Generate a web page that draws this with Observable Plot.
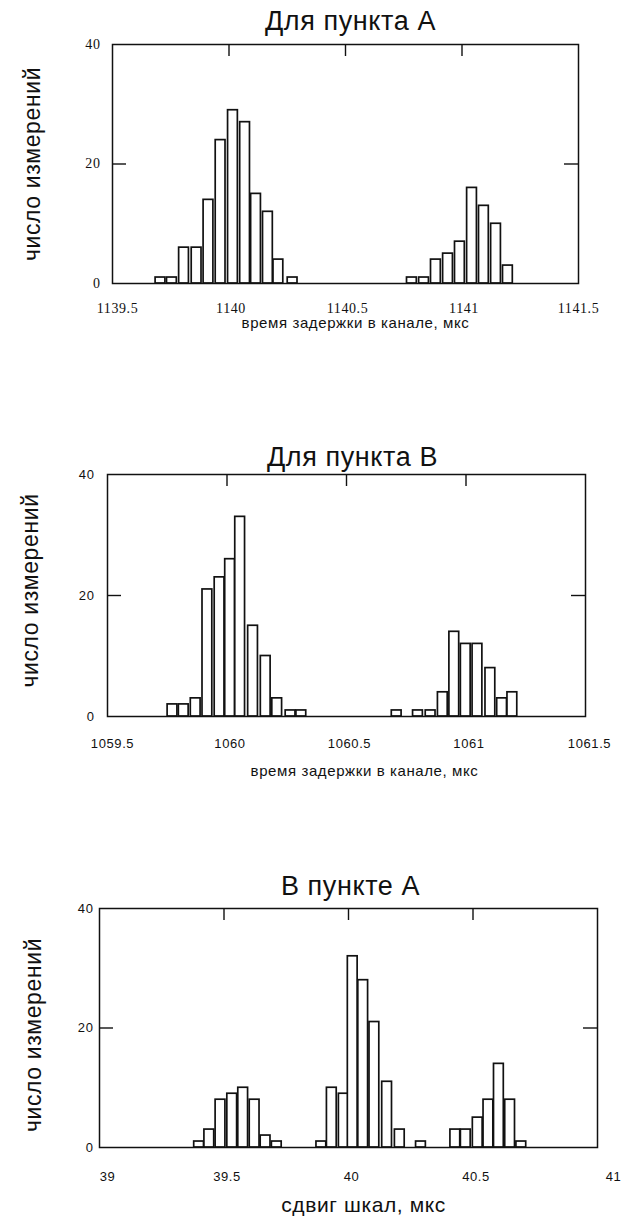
<!DOCTYPE html>
<html><head><meta charset="utf-8">
<script src="https://cdn.jsdelivr.net/npm/d3@7"></script>
<script src="https://cdn.jsdelivr.net/npm/@observablehq/plot@0.6"></script>
<style>
body{margin:0;background:#fff;}
#wrap{position:relative;width:637px;height:1226px;overflow:hidden;background:#fff;}
.panel{position:absolute;left:0;}
</style></head><body><div id="wrap"></div>
<script>
// ---- Panel 1: "Для пункта А" ----
const p1Title = "Для пункта А";
const p1XLabel = "время задержки в канале, мкс";
const p1Times  = [1139.706,1139.755,1139.807,1139.861,1139.912,1139.964,1140.017,1140.069,1140.116,1140.167,1140.212,1140.273,
                  1140.785,1140.837,1140.888,1140.940,1140.991,1141.043,1141.094,1141.146,1141.197];
const p1Counts = [1,1,6,6,14,24,29,27,15,12,4,1,
                  1,1,4,5,7,16,13,10,3];
const p1Ticks  = [1139.5,1140,1140.5,1141,1141.5];

// ---- Panel 2: "Для пункта В" ----
const p2Title = "Для пункта В";
const p2XLabel = "время задержки в канале, мкс";
const p2Times  = [1059.772,1059.819,1059.869,1059.918,1059.969,1060.013,1060.055,1060.109,1060.162,1060.210,1060.266,1060.311,
                  1060.710,1060.799,1060.852,1060.903,1060.951,1060.999,1061.048,1061.102,1061.151,1061.194];
const p2Counts = [2,2,3,21,23,26,33,15,10,3,1,1,
                  1,1,1,4,14,12,12,8,3,4];
const p2Ticks  = [1059.5,1060,1060.5,1061,1061.5];

// ---- Panel 3: "В пункте А" ----
const p3Title = "В пункте А";
const p3XLabel = "сдвиг шкал, мкс";
const p3Times  = [39.400,39.441,39.486,39.533,39.577,39.623,39.667,39.712,
                  39.891,39.933,39.981,40.017,40.059,40.104,40.155,40.206,40.291,
                  40.429,40.471,40.519,40.562,40.604,40.649,40.694];
const p3Counts = [1,3,8,9,10,8,2,1,
                  1,10,9,32,28,21,11,3,1,
                  3,3,5,8,14,8,1];
const p3Ticks  = [39,39.5,40,40.5,41];

const yTicks = [0,20,40];
const yLabel = "число измерений";

const wrap = document.getElementById("wrap");

function panel(o) {
  const data = o.times.map((t, i) => ({t, n: o.counts[i]}));
  const x0 = o.ticks[0], x1 = o.ticks[o.ticks.length - 1];
  const innerW = 637 - o.ml - o.mr;
  const pxu = innerW / (x1 - x0);         // px per x unit (for style lengths)
  const hw = 4.9 / pxu;                   // half bar width (~10px bars)
  const innerH = o.height - o.mt - o.mb;
  const tickLenY = 12 * 40 / innerH;      // 12px inner top ticks
  const tickLenX = 14 / pxu;              // 14px inner side ticks
  const inner = o.ticks.slice(1, -1);
  const chart = Plot.plot({
    width: 637, height: o.height,
    marginTop: o.mt, marginBottom: o.mb, marginLeft: o.ml, marginRight: o.mr,
    style: {background: "transparent", color: "#111", overflow: "visible"},
    x: {domain: [x0, x1]},
    y: {domain: [0, 40]},
    marks: [
      Plot.rect(data, {x1: d => d.t - hw, x2: d => d.t + hw, y1: 0, y2: "n",
        fill: "white", stroke: "#111", strokeWidth: 1.7}),
      Plot.frame({stroke: "#111", strokeWidth: 1.5}),
      Plot.ruleX(inner, {x: d => d, y1: 40, y2: 40 - tickLenY, stroke: "#111", strokeWidth: 1.4}),
      Plot.ruleY([20], {y: d => d, x1: x0, x2: x0 + tickLenX, stroke: "#111", strokeWidth: 1.4}),
      Plot.ruleY([20], {y: d => d, x1: x1, x2: x1 - tickLenX, stroke: "#111", strokeWidth: 1.4}),
      Plot.axisX(o.ticks.slice(0, 1), {tickSize: 0, tickPadding: o.xPad, tickFormat: d => String(d), dx: o.firstDx,
        fontSize: o.tickFont, fontFamily: o.tickFamily, label: null}),
      Plot.axisX(o.ticks.slice(1, -1), {tickSize: 0, tickPadding: o.xPad, tickFormat: d => String(d), dx: o.midDx,
        fontSize: o.tickFont, fontFamily: o.tickFamily, label: null}),
      Plot.axisX(o.ticks.slice(-1), {tickSize: 0, tickPadding: o.xPad, tickFormat: d => String(d), dx: o.lastDx,
        fontSize: o.tickFont, fontFamily: o.tickFamily, label: null}),
      Plot.axisY(yTicks, {tickSize: 0, tickPadding: o.yPad, tickFormat: d => String(d),
        fontSize: o.tickFont, fontFamily: o.tickFamily, label: null}),
      Plot.text([o.title], {text: d => d, frameAnchor: "top", dy: o.titleDy, dx: o.titleDx,
        fontSize: 27, fontFamily: "Liberation Sans", fill: "#111", lineAnchor: "bottom", textAnchor: "middle"}),
      Plot.text([o.xLabel], {text: d => d, frameAnchor: "bottom", dy: o.xLabDy, dx: o.xLabDx,
        fontSize: o.xLabFont, fontFamily: "Liberation Sans", fill: "#111", lineAnchor: "middle", textAnchor: "middle"}),
      Plot.text([yLabel], {text: d => d, frameAnchor: "left", dx: o.yLabDx, dy: o.yLabDy, rotate: -90,
        fontSize: 23, fontFamily: "Liberation Sans", fill: "#111", lineAnchor: "middle", textAnchor: "middle"})
    ]
  });
  chart.classList.add("panel");
  chart.style.top = o.top + "px";
  chart.querySelectorAll("text").forEach(t => t.setAttribute("letter-spacing", "0.6"));
  wrap.appendChild(chart);
}

panel({times: p1Times, counts: p1Counts, ticks: p1Ticks, title: p1Title, xLabel: p1XLabel,
  top: 0, height: 345, mt: 44, mb: 62, ml: 112, mr: 59,
  xPad: 20, yPad: 12, tickFont: 14, tickFamily: "Liberation Serif", firstDx: 5, midDx: 2, lastDx: 0,
  titleDy: -15, titleDx: 5, xLabDy: 40, xLabDx: 10, xLabFont: 15, yLabDx: -80, yLabDy: 0});

panel({times: p2Times, counts: p2Counts, ticks: p2Ticks, title: p2Title, xLabel: p2XLabel,
  top: 440, height: 345, mt: 34, mb: 69, ml: 107, mr: 52,
  xPad: 22, yPad: 13, tickFont: 13, tickFamily: "Liberation Sans", firstDx: 5, midDx: 3, lastDx: 4,
  titleDy: -9, titleDx: 6, xLabDy: 55, xLabDx: 18, xLabFont: 15, yLabDx: -77, yLabDy: -5});

panel({times: p3Times, counts: p3Counts, ticks: p3Ticks, title: p3Title, xLabel: p3XLabel,
  top: 870, height: 356, mt: 38, mb: 79, ml: 99, mr: 40,
  xPad: 24, yPad: 6, tickFont: 13, tickFamily: "Liberation Sans", firstDx: 8, midDx: 3, lastDx: 16,
  titleDy: -14, titleDx: 2, xLabDy: 58, xLabDx: 15, xLabFont: 21, yLabDx: -66, yLabDy: 7});
</script>
</body></html>
